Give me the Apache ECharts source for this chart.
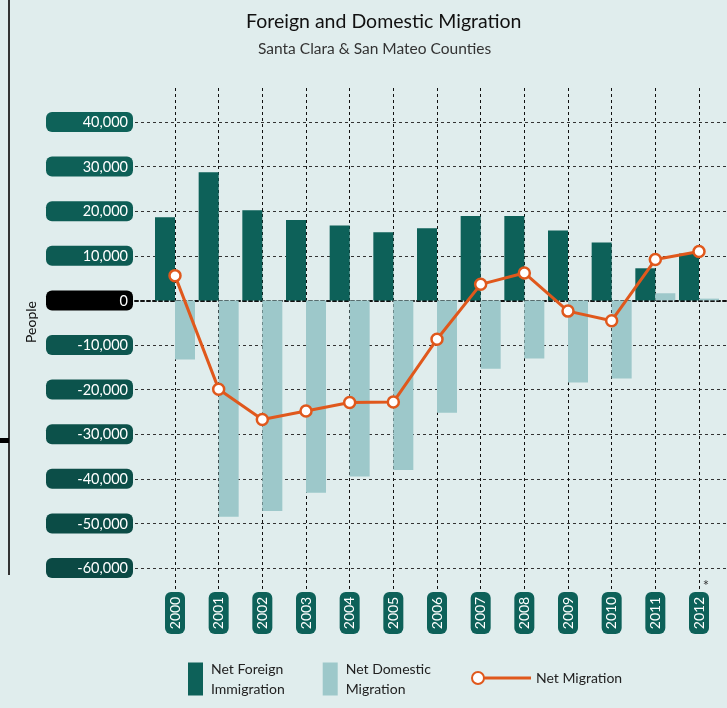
<!DOCTYPE html>
<html>
<head>
<meta charset="utf-8">
<script src="https://cdn.jsdelivr.net/npm/echarts@6/dist/echarts.min.js"></script>
<style>
html,body{margin:0;padding:0;background:#e0eded;}
#chart{width:727px;height:708px;}
</style>
</head>
<body>
<div id="chart"></div>
<script>
const years = ['2000','2001','2002','2003','2004','2005','2006','2007','2008','2009','2010','2011','2012'];
const foreignImmigration = [18650, 28750, 20200, 18000, 16800, 15300, 16200, 18900, 18900, 15700, 13000, 7200, 10500];
const domesticMigration = [-13250, -48500, -47200, -43100, -39500, -38000, -25200, -15300, -13000, -18400, -17500, 1600, 400];
const netMigration = [5550, -19900, -26700, -24800, -22900, -22800, -8700, 3600, 6150, -2400, -4550, 9150, 10950];
const yTicks = [40000, 30000, 20000, 10000, 0, -10000, -20000, -30000, -40000, -50000, -60000];

const FONT = 'Lato, "Open Sans", sans-serif';
const C_FOREIGN = '#0d6159';
const C_DOMESTIC = '#9dc8ca';
const C_NET = '#e0581c';

function lerpColor(a, b, t) {
  const pa = [parseInt(a.substr(1,2),16), parseInt(a.substr(3,2),16), parseInt(a.substr(5,2),16)];
  const pb = [parseInt(b.substr(1,2),16), parseInt(b.substr(3,2),16), parseInt(b.substr(5,2),16)];
  return 'rgb(' + pa.map((v,i)=>Math.round(v + (pb[i]-v)*t)).join(',') + ')';
}
const yRich = {};
yTicks.forEach((v, i) => {
  const t = i / (yTicks.length - 1);
  yRich['k' + i] = {
    backgroundColor: v === 0 ? '#000000' : lerpColor('#0e6259', '#0b4944', t),
    color: '#ffffff', fontFamily: FONT, fontSize: 14.5,
    width: 77, height: 15, align: 'right',
    padding: [3, 5, 2, 5], borderRadius: 6
  };
});

const chart = echarts.init(document.getElementById('chart'));
const option = {
  backgroundColor: '#e0eded',
  animation: false,
  title: [
    { text: 'Foreign and Domestic Migration', left: 241, top: 7,
      textStyle: { fontFamily: FONT, fontSize: 19.5, fontWeight: 'normal', color: '#111' } },
    { text: 'Santa Clara & San Mateo Counties', left: 253, top: 36,
      textStyle: { fontFamily: FONT, fontSize: 15.5, fontWeight: 'normal', color: '#333' } }
  ],
  grid: [
    { left: 135, right: 0, top: 122, bottom: 140 },
    { left: 175, right: 28, top: 122, bottom: 140 },
    { left: 175, right: 28, top: 88, bottom: 118 }
  ],
  xAxis: [
    { type: 'value', gridIndex: 0, min: 0, max: 1, show: true,
      axisLine: { show: true, onZero: true, lineStyle: { color: '#111', width: 2, type: [3, 3] } },
      axisTick: { show: false }, axisLabel: { show: false }, splitLine: { show: false } },
    { type: 'category', gridIndex: 1, data: years, boundaryGap: false, show: false },
    { type: 'category', gridIndex: 2, data: years, boundaryGap: false, position: 'bottom',
      axisLine: { show: false }, axisTick: { show: false },
      splitLine: { show: true, lineStyle: { color: '#111', width: 1, type: [3, 3] } },
      axisLabel: {
        rotate: 90, margin: 2, interval: 0,
        formatter: v => '{b|' + v + '}',
        rich: { b: { backgroundColor: C_FOREIGN, color: '#fff', fontFamily: FONT, fontSize: 14,
          width: 32, height: 16, align: 'center', padding: [2, 5, 2, 5], borderRadius: 6 } }
      } }
  ],
  yAxis: [
    { type: 'value', gridIndex: 0, min: -60000, max: 40000, interval: 10000,
      axisLine: { show: false }, axisTick: { show: false },
      splitLine: { show: true, lineStyle: { color: '#333', width: 1, type: [3, 3] } },
      axisLabel: {
        margin: 2,
        formatter: function (v) {
          const idx = yTicks.indexOf(v);
          const s = v.toLocaleString('en-US');
          return '{k' + idx + '|' + s + '}';
        },
        rich: yRich
      } },
    { type: 'value', gridIndex: 1, min: -60000, max: 40000, interval: 10000, show: false },
    { type: 'value', gridIndex: 2, min: 0, max: 1, show: false }
  ],
  legend: [
    { data: ['Net Foreign Immigration', 'Net Domestic Migration'],
      left: 183, top: 654, orient: 'horizontal', itemGap: 38,
      itemWidth: 15, itemHeight: 33, icon: 'rect',
      formatter: n => n === 'Net Foreign Immigration' ? 'Net Foreign\nImmigration' : 'Net Domestic\nMigration',
      textStyle: { fontFamily: FONT, fontSize: 14, color: '#222', lineHeight: 20, padding: [0, 0, 0, 3] } },
    { data: ['Net Migration'], left: 466, top: 666,
      itemWidth: 58, itemHeight: 12,
      icon: 'path://M0,6a6,6 0 1,0 12,0a6,6 0 1,0 -12,0Z M12,5.5L58,5.5L58,6.5L12,6.5Z',
      itemStyle: { color: '#ffffff', borderColor: C_NET, borderWidth: 2 },
      textStyle: { fontFamily: FONT, fontSize: 14, color: '#222', padding: [0, 0, 0, 1] } }
  ],
  graphic: [
    { type: 'line', shape: { x1: 9, y1: 0, x2: 9, y2: 575 }, style: { stroke: '#333', lineWidth: 2 } },
    { type: 'rect', shape: { x: 0, y: 438, width: 9, height: 5 }, style: { fill: '#000' } },
    { type: 'text', x: 31, y: 322, rotation: Math.PI / 2,
      style: { text: 'People', fontFamily: FONT, fontSize: 14, fill: '#111', align: 'center', verticalAlign: 'middle' } },
    { type: 'text', x: 706, y: 586,
      style: { text: '*', fontFamily: FONT, fontSize: 15, fill: '#333', align: 'center', verticalAlign: 'middle' } }
  ],
  series: [
    { name: 'Net Foreign Immigration', type: 'bar', xAxisIndex: 1, yAxisIndex: 1,
      data: foreignImmigration, barWidth: 20, barGap: '0%', clip: false,
      itemStyle: { color: C_FOREIGN } },
    { name: 'Net Domestic Migration', type: 'bar', xAxisIndex: 1, yAxisIndex: 1,
      data: domesticMigration, barWidth: 20, barGap: '0%', clip: false,
      itemStyle: { color: C_DOMESTIC } },
    { name: 'Net Migration', type: 'line', xAxisIndex: 1, yAxisIndex: 1,
      data: netMigration, symbol: 'circle', symbolSize: 11, clip: false, z: 5,
      lineStyle: { color: C_NET, width: 3 },
      itemStyle: { color: '#ffffff', borderColor: C_NET, borderWidth: 2.5 } }
  ]
};
chart.setOption(option);
</script>
</body>
</html>
